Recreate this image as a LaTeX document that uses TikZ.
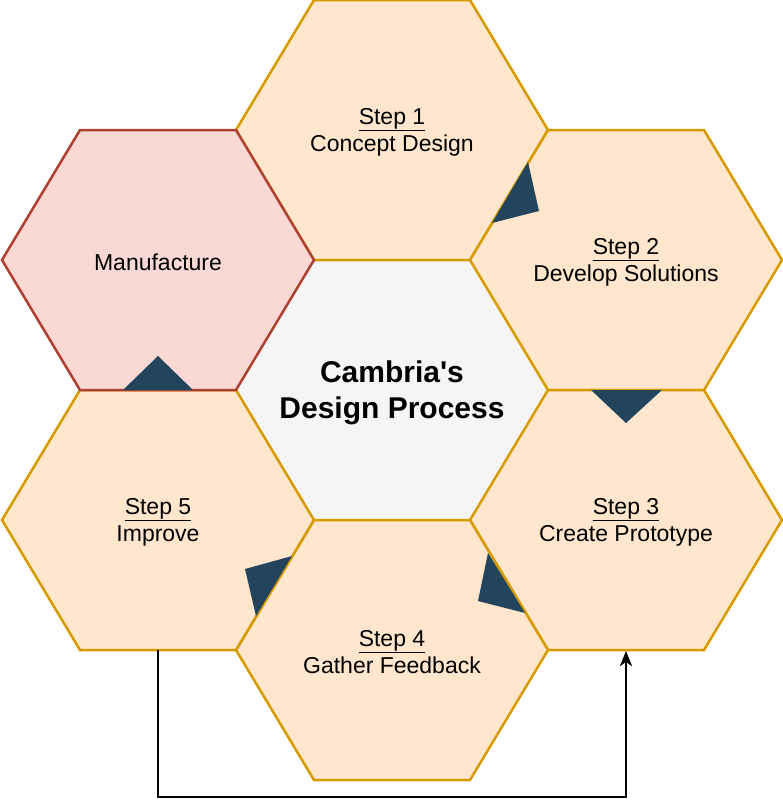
\documentclass[tikz,border=0pt]{standalone}
\usepackage{fontspec}
\setmainfont{Liberation Sans}
\usetikzlibrary{arrows.meta}

\definecolor{stepfill}{HTML}{FFE6CC}
\definecolor{stepline}{HTML}{D79B00}
\definecolor{mfgfill}{HTML}{FAD9D5}
\definecolor{mfgline}{HTML}{AE4132}
\definecolor{corefill}{HTML}{F5F5F5}
\definecolor{coreline}{HTML}{666666}
\definecolor{tipblue}{HTML}{23445D}

\tikzstyle{stephex} = [fill=stepfill, draw=stepline, line width=2.5pt]
\tikzstyle{mfghex} = [fill=mfgfill, draw=mfgline, line width=2.5pt]
\tikzstyle{corehex} = [fill=corefill, draw=coreline, line width=1pt]
\tikzstyle{steptext} = [align=center, font=\fontsize{23}{27}\selectfont]
\tikzstyle{titletext} = [align=center, font=\fontsize{30}{36}\selectfont\bfseries]
\tikzstyle{pointer} = [fill=tipblue]

% flat-topped hexagon around a centre point
\newcommand{\hexcell}[2]{%
  \draw[#1] (#2) ++(-156,0) -- ++(78,-130) -- ++(156,0) -- ++(78,130)
    -- ++(-78,130) -- ++(-156,0) -- cycle;}

\begin{document}
\begin{tikzpicture}[x=1pt, y=-1pt]
\useasboundingbox (0,0) rectangle (783,807);

\hexcell{corehex}{392,390}
\hexcell{stephex}{392,130}
\hexcell{stephex}{626,260}
\hexcell{stephex}{626,520}
\hexcell{stephex}{392,650}
\hexcell{stephex}{158,520}
\hexcell{mfghex}{158,260}

% little pointers between the steps
\fill[pointer] (528,162) -- (539,211) -- (492,223) -- cycle;
\fill[pointer] (591,390) -- (662,390) -- (626,423) -- cycle;
\fill[pointer] (488,553) -- (525,613) -- (478,601) -- cycle;
\fill[pointer] (292,556) -- (256,616) -- (245,569) -- cycle;
\fill[pointer] (123,390) -- (193,390) -- (158,356) -- cycle;

\node[titletext] (core) at (392,393) {Cambria\textquotesingle s\\Design Process};
\node[steptext] (s1) at (392,132) {\underline{Step 1}\\Concept Design};
\node[steptext] (s2) at (626,262) {\underline{Step 2}\\Develop Solutions};
\node[steptext] (s3) at (626,522) {\underline{Step 3}\\Create Prototype};
\node[steptext] (s4) at (392,652) {\underline{Step 4}\\Gather Feedback};
\node[steptext] (s5) at (158,522) {\underline{Step 5}\\Improve};
\node[steptext] (mfg) at (158,262) {Manufacture};

% loop back from improve to prototype
\coordinate (loopA) at (158,650);
\coordinate (loopB) at (626,651);
\draw[line width=2.5pt, -{Stealth[length=15pt, width=12pt, inset=4pt]}]
  (loopA) -- ++(0,147) -| (loopB);
\end{tikzpicture}
\end{document}
